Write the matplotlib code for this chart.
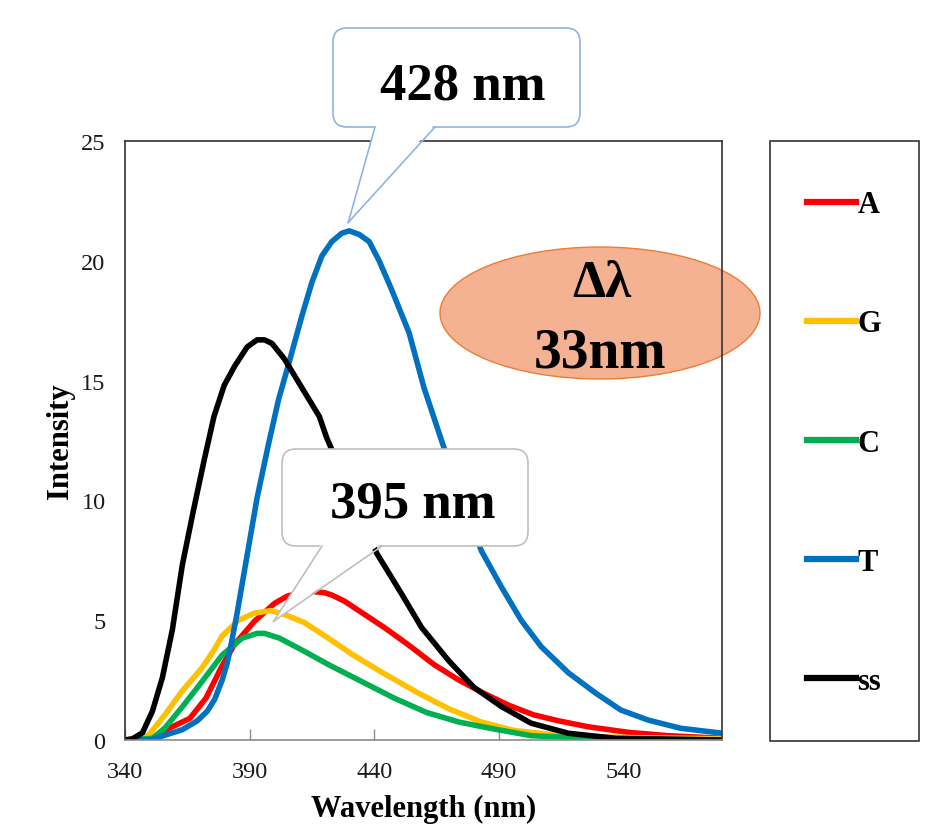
import numpy as np
import matplotlib.pyplot as plt
from matplotlib.patches import FancyBboxPatch, Polygon, Ellipse, Rectangle
from matplotlib.lines import Line2D
from matplotlib.transforms import Affine2D

W, H = 929, 828

# emission spectra (wavelength nm, intensity)
wl_A = [340, 351, 357.7, 366, 372.5, 379, 384, 392, 400, 405, 410, 415, 420, 423, 428, 436,
        444, 454, 464, 474, 484, 494, 504, 514, 526, 542, 558, 580]
int_A = [0, 0, 0.49, 0.9, 1.75, 3.1, 4.0, 4.96, 5.7, 6.0, 6.15, 6.2, 6.15, 6.05, 5.8, 5.25,
         4.7, 3.95, 3.15, 2.5, 1.95, 1.45, 1.05, 0.8, 0.55, 0.32, 0.18, 0.07]

wl_G = [340, 349.5, 356, 362.6, 370.8, 375.7, 379, 385.6, 392, 398.7, 405, 412, 421.6, 431.5,
        443.5, 457, 470, 483, 496, 516, 543, 580]
int_G = [0, 0.2, 1.05, 2.0, 3.0, 3.75, 4.35, 5.0, 5.3, 5.4, 5.2, 4.9, 4.25, 3.55,
         2.8, 2.0, 1.3, 0.75, 0.4, 0.17, 0.1, 0.05]

wl_C = [340, 351, 356, 362.6, 371, 379, 387, 393, 396, 402, 412, 421.6, 434.8, 448, 461,
        474, 487, 503, 527, 580]
int_C = [0, 0.07, 0.5, 1.33, 2.45, 3.55, 4.25, 4.45, 4.45, 4.25, 3.7, 3.15, 2.45, 1.75, 1.15,
         0.75, 0.48, 0.18, 0.06, 0]

wl_T = [340, 350, 356, 363, 369, 373, 376, 379, 381, 383, 385, 389, 393, 397.5, 401.6, 405.7,
        411, 415, 419, 423, 427, 430, 434, 438, 442, 447, 454, 460, 468, 483, 491, 499, 507,
        518, 529, 539, 550, 563, 580]
int_T = [0, 0, 0.2, 0.43, 0.8, 1.2, 1.7, 2.5, 3.2, 4.2, 5.3, 7.7, 10.1, 12.3, 14.2, 15.7,
         17.7, 19.1, 20.2, 20.8, 21.15, 21.25, 21.1, 20.8, 20.0, 18.8, 17.0, 14.7, 12.2, 7.9,
         6.4, 5.0, 3.9, 2.8, 1.95, 1.25, 0.83, 0.49, 0.28]

wl_ss = [340, 343, 347, 351, 355, 359, 363, 367.5, 371.6, 375.7, 379.8, 384, 389, 393, 396,
         399, 404, 411, 418, 421, 441, 451, 459, 470, 480, 491, 503, 518, 537, 580]
int_ss = [0, 0.05, 0.3, 1.2, 2.6, 4.6, 7.3, 9.6, 11.6, 13.5, 14.8, 15.6, 16.4, 16.7, 16.7,
          16.55, 15.9, 14.7, 13.5, 12.6, 7.8, 6.1, 4.7, 3.3, 2.2, 1.4, 0.7, 0.28, 0.07, 0]

labels = ["A", "G", "C", "T", "ss"]
colors = ["#ff0000", "#ffc000", "#00b050", "#0070c0", "#000000"]
x_ticks = [340, 390, 440, 490, 540]
y_ticks = [0, 5, 10, 15, 20, 25]

# callout anchors (data coords) and texts
tip_T = (429.6, 21.6)
tip_G = (399.6, 4.95)
note_T = "428 nm"
note_G = "395 nm"
shift_lines = ["\u0394\u03bb", "33nm"]

SERIF = ["Liberation Serif", "DejaVu Serif"]
plt.rcParams["font.family"] = SERIF


def main():
    fig = plt.figure(figsize=(W / 100, H / 100), dpi=100)
    ax = fig.add_axes([125 / W, 1 - 741 / H, 597 / W, 599 / H])
    # pixel coords of the reference, origin top-left
    pxT = Affine2D().scale(1 / W, -1 / H).translate(0, 1) + fig.transFigure

    series = [(wl_A, int_A), (wl_G, int_G), (wl_C, int_C), (wl_T, int_T), (wl_ss, int_ss)]
    for (x, y), lab, col in zip(series, labels, colors):
        ax.plot(x, y, color=col, lw=4.0, label=lab, solid_joinstyle="round")

    ax.set_xlim(340, 579.6)
    ax.set_ylim(0, 25)
    ax.set_xticks(x_ticks)
    ax.set_yticks(y_ticks)
    ax.tick_params(axis="x", direction="in", length=8, width=1, color="#8c8c8c",
                   labelsize=17.5, pad=15, labelcolor="#1a1a1a")
    ax.tick_params(axis="y", length=0, labelsize=17.5, pad=14, labelcolor="#1a1a1a")
    for side in ["left", "top", "right"]:
        ax.spines[side].set_color("#333333")
        ax.spines[side].set_linewidth(1.2)
    ax.spines["bottom"].set_color("#8c8c8c")
    ax.spines["bottom"].set_linewidth(1.2)
    ax.set_xlabel("Wavelength (nm)", fontsize=22, fontweight="bold", labelpad=9)
    ax.set_ylabel("Intensity", fontsize=22, fontweight="bold", labelpad=4)

    # shift ellipse, behind the frame
    ell = Ellipse((600, 314), 320, 132, transform=pxT, facecolor="#f4b293",
                  edgecolor="#ed7d31", lw=1.0, clip_on=False, zorder=2.4)
    ax.add_artist(ell)
    fig.text(602 / W, 1 - 297 / H, shift_lines[0], fontsize=38, fontweight="bold",
             ha="center", va="baseline", family=SERIF)
    fig.text(600 / W, 1 - 368 / H, shift_lines[1], fontsize=40, fontweight="bold",
             ha="center", va="baseline", family=SERIF)

    # callouts
    def callout(box, base, tip, edge, text, tx, ty):
        x0, y0, x1, y1 = box
        disp = ax.transData.transform(tip)
        tpx = pxT.inverted().transform(disp)
        fig.add_artist(FancyBboxPatch((x0, y0), x1 - x0, y1 - y0,
                                      boxstyle="round,pad=0,rounding_size=14",
                                      transform=pxT, facecolor="white", edgecolor=edge,
                                      lw=1.2, zorder=5))
        fig.add_artist(Polygon([(base[0], y1 - 3), (base[1], y1 - 3), tpx], closed=True,
                               transform=pxT, facecolor="white", edgecolor="none", zorder=6))
        for bx in base:
            fig.add_artist(Line2D([bx, tpx[0]], [y1, tpx[1]], transform=pxT, color=edge,
                                  lw=1.2, zorder=7))
        fig.text(tx / W, 1 - ty / H, text, fontsize=38, fontweight="bold", ha="center",
                 va="baseline", zorder=8, family=SERIF)

    callout((333, 29, 580, 128), (375, 435), tip_T, "#8fb4e3", note_T, 463, 100)
    callout((282, 450, 528, 547), (322, 382), tip_G, "#bfbfbf", note_G, 412.5, 518)

    # legend box
    fig.add_artist(Rectangle((770, 142), 149, 600, transform=pxT, facecolor="none",
                             edgecolor="#333333", lw=1.2))
    leg = fig.legend(loc="center", bbox_to_anchor=(844 / W, 1 - 444 / H),
                     bbox_transform=fig.transFigure, frameon=False,
                     prop={"family": SERIF, "weight": "bold", "size": 22},
                     labelspacing=2.95, handlelength=1.6, handletextpad=0.05)
    for line in leg.get_lines():
        line.set_linewidth(4.5)

    fig.savefig("out.png", dpi=100)


if __name__ == "__main__":
    main()
